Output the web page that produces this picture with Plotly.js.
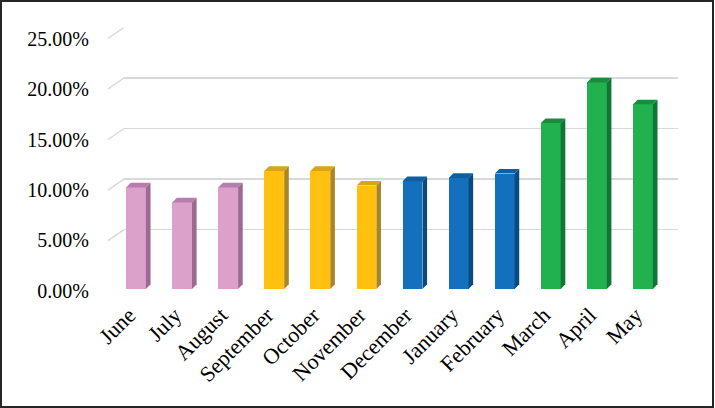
<!DOCTYPE html>
<html>
<head>
<meta charset="utf-8">
<script src="https://cdn.plot.ly/plotly-3.0.1.min.js"></script>
<style>
  html, body { margin: 0; padding: 0; background: #fff; }
  #chart { width: 715px; height: 408px; }
</style>
</head>
<body>
<div id="chart"></div>
<script>
// monthly share (percent)
const months = ['June', 'July', 'August', 'September', 'October', 'November',
                'December', 'January', 'February', 'March', 'April', 'May'];
const shares = [10.05, 8.57, 10.05, 11.69, 11.69, 10.24, 10.67, 11.0, 11.43, 16.43, 20.45, 18.28];
const seasons = ['summer', 'summer', 'summer', 'autumn', 'autumn', 'autumn',
                 'winter', 'winter', 'winter', 'spring', 'spring', 'spring'];
const yTicks = [0, 5, 10, 15, 20, 25];
const yTickText = yTicks.map(t => t.toFixed(2) + '%');

// front / top / side shades for the fake 3d bars
const palette = {
  summer: ['#DBA1CB', '#B87DAA', '#9D6891'],
  autumn: ['#FFC010', '#D9A31C', '#AB8424'],
  winter: ['#1270BC', '#0F5E9F', '#0B4A80'],
  spring: ['#21B24F', '#1A8C3E', '#107535']
};

const serif = 'Liberation Serif, Times New Roman, serif';
const barW = 0.43;   // front face width, category units
const dx = 0.10;     // depth offset, category units
const dy = 0.46;     // depth offset, percent units

const idx = months.map((m, i) => i);

// back wall gridlines
const wall = {
  x: [0], y: [0], xaxis: 'x', yaxis: 'y',
  type: 'scatter', mode: 'markers', marker: { opacity: 0 },
  hoverinfo: 'skip', showlegend: false
};
// value labels sit at the front edge of the floor
const front = {
  x: [0], y: [0], xaxis: 'x', yaxis: 'y3',
  type: 'scatter', mode: 'markers', marker: { opacity: 0 },
  hoverinfo: 'skip', showlegend: false
};

// front faces
const bars = {
  x: idx, y: shares, xaxis: 'x2', yaxis: 'y2',
  type: 'bar', width: barW,
  marker: { color: seasons.map(s => palette[s][0]), line: { width: 0 } },
  showlegend: false,
  hovertemplate: '%{text}: %{y:.2f}%<extra></extra>',
  text: months, textposition: 'none'
};

const shapes = [];

// little floor stubs left of the gridlines
yTicks.forEach(t => {
  shapes.push({
    type: 'line', layer: 'below',
    xref: 'paper', xsizemode: 'pixel', xanchor: 0.1734, x0: -16, x1: 0,
    yref: 'y', ysizemode: 'pixel', yanchor: t, y0: -11, y1: 0,
    line: { color: '#D9D9D9', width: 1.5 }
  });
});

// top and side faces, built from the values
shares.forEach((v, i) => {
  const c = palette[seasons[i]];
  const l = i - barW / 2, r = i + barW / 2;
  shapes.push({
    type: 'path', xref: 'x2', yref: 'y2', line: { width: 0 }, fillcolor: c[1],
    path: `M ${l},${v} L ${l + dx},${v + dy} L ${r + dx},${v + dy} L ${r},${v} Z`
  });
  shapes.push({
    type: 'path', xref: 'x2', yref: 'y2', line: { width: 0 }, fillcolor: c[2],
    path: `M ${r},0 L ${r + dx},${dy} L ${r + dx},${v + dy} L ${r},${v} Z`
  });
});

// outer frame
shapes.push({
  type: 'rect', xref: 'paper', yref: 'paper', x0: 0.0014, x1: 0.9972, y0: 0.0025, y1: 0.9975,
  line: { color: '#262626', width: 2 }
});

const layout = {
  width: 715, height: 408,
  margin: { l: 0, r: 0, t: 0, b: 0 },
  paper_bgcolor: '#fff', plot_bgcolor: 'rgba(0,0,0,0)',
  font: { family: serif, color: '#000' },
  bargap: 0,
  xaxis: {
    domain: [0.1734, 0.9483], range: [0, 1], anchor: 'y',
    showgrid: false, zeroline: false, showline: false, showticklabels: false, ticks: ''
  },
  yaxis: {
    domain: [0.3137, 0.9326], range: [0, 25], anchor: 'x',
    tickvals: yTicks, showticklabels: false,
    showgrid: true, gridcolor: '#D9D9D9', gridwidth: 1.5,
    zeroline: false, showline: false, ticks: ''
  },
  yaxis3: {
    domain: [0.2868, 0.9056], range: [0, 25], anchor: 'x',
    tickvals: yTicks, ticktext: yTickText,
    showgrid: false, zeroline: false, showline: false, ticks: '',
    ticklabelstandoff: 34,
    tickfont: { family: serif, size: 20, color: '#000' }
  },
  xaxis2: {
    domain: [0.158, 0.9315], range: [-0.5, 11.5], anchor: 'y2',
    tickvals: idx, ticktext: months, tickangle: -45,
    showgrid: false, zeroline: false, showline: false, ticks: '',
    ticklabelstandoff: 8, ticklabelshift: -7,
    tickfont: { family: serif, size: 22, color: '#000' }
  },
  yaxis2: {
    domain: [0.2917, 0.9106], range: [0, 25], anchor: 'x2',
    visible: false
  },
  shapes: shapes
};

Plotly.newPlot('chart', [wall, front, bars], layout, { displayModeBar: false, staticPlot: true });
</script>
</body>
</html>
